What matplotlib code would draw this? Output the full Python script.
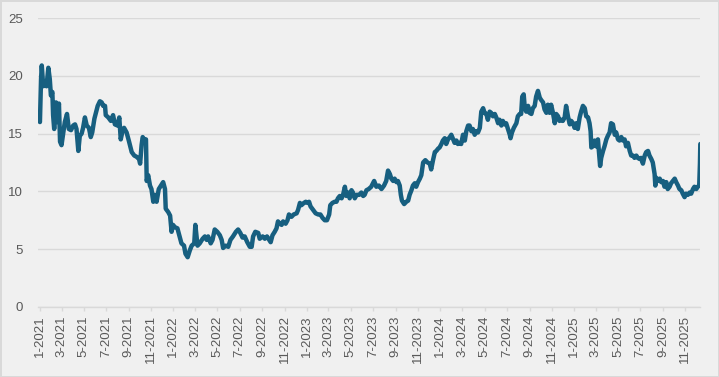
import matplotlib
matplotlib.use("Agg")
import matplotlib.pyplot as plt
import matplotlib.dates as mdates
from matplotlib.ticker import FuncFormatter, MultipleLocator
import pandas as pd

start_date = "2021-01-01"

days_since_start = [
    0, 3, 5, 9, 14, 18, 23, 27, 30, 34, 36, 39, 44, 47, 52, 55, 59, 64, 68, 74,
    79, 85, 91, 96, 100, 105, 109, 114, 118, 123, 128, 134, 139, 143, 149, 153, 158, 164, 169, 173,
    178, 180, 187, 194, 200, 205, 212, 217, 221, 225, 230, 237, 243, 251, 258, 264, 271, 274, 278, 281,
    285, 290, 292, 296, 301, 305, 310, 314, 319, 325, 331, 337, 342, 344, 351, 356, 360, 364, 369, 376,
    381, 387, 394, 398, 404, 410, 415, 422, 425, 431,
    437, 445, 451, 456, 460, 467, 472, 478, 485, 492, 497, 501, 508, 515, 521, 528, 536, 542, 548, 554,
    560, 567, 574, 579, 583, 589, 597, 601, 609, 615, 621, 627, 631, 636, 642, 647, 651, 656, 661, 665,
    672, 677, 681, 688, 694, 702, 706, 711, 715, 722, 727, 732, 736, 740, 747, 754, 761, 767, 773, 779,
    785, 791, 794, 800, 806, 811, 815, 820, 825, 829, 834, 838, 843, 847, 852, 856, 861, 866, 873, 879, 884,
    888, 893, 899, 906, 914, 920, 927, 934, 941, 947, 952, 957, 961, 966, 970, 975, 979, 984, 987, 990,
    996, 1002, 1007, 1011, 1016, 1020, 1025, 1029, 1034, 1039, 1043, 1048, 1054, 1060, 1066, 1070, 1075, 1080, 1084, 1089,
    1093, 1098, 1102, 1107, 1111, 1116, 1121, 1125, 1130, 1134, 1139, 1143, 1148, 1152, 1157, 1162, 1166, 1171, 1175, 1180,
    1184, 1189, 1193, 1198, 1203, 1207, 1212, 1216, 1221, 1225, 1230, 1234, 1239, 1244, 1248, 1253, 1257, 1262, 1266, 1271,
    1275, 1280, 1285, 1287, 1291, 1296, 1303, 1307, 1312, 1316, 1319, 1323, 1326, 1330, 1335,
    1339, 1344, 1348, 1353, 1357, 1362, 1367, 1371, 1376, 1380, 1385, 1389, 1394, 1398, 1403, 1408, 1412, 1417, 1421, 1426,
    1430, 1435, 1439, 1444, 1449, 1453, 1458, 1462, 1467, 1471, 1476, 1480, 1485, 1490, 1494, 1499, 1503, 1506, 1508, 1512,
    1517, 1521, 1526, 1529, 1532, 1535, 1540, 1544, 1549, 1553, 1558, 1562, 1567, 1572, 1576, 1581, 1585, 1590, 1594, 1599,
    1603, 1608, 1613, 1617, 1622, 1626, 1631, 1635, 1640, 1644, 1649, 1654, 1658, 1663, 1667, 1672, 1676, 1681, 1683, 1685,
    1690, 1695, 1699, 1704, 1708, 1713, 1717, 1722, 1726, 1731, 1736, 1740, 1745, 1749, 1754, 1758, 1763, 1767, 1772, 1777,
    1781, 1786, 1790, 1795, 1799, 1803, 1805, 1806,
]

values = [
    16.0, 19.7, 20.9, 19.1, 19.4, 19.1, 20.7, 19.7, 18.3, 18.6, 16.6, 15.4, 17.7, 16.0, 17.6, 14.3, 14.0, 15.1, 16.0, 16.7,
    15.4, 15.3, 15.7, 15.8, 15.4, 13.5, 14.8, 15.0, 15.5, 16.4, 15.7, 15.5, 14.7, 15.1, 16.3, 16.8, 17.4, 17.8, 17.7, 17.4,
    17.4, 16.6, 16.4, 16.1, 16.6, 15.8, 15.7, 16.4, 14.5, 15.1, 15.5, 15.1, 14.4, 13.4, 13.1, 13.0, 12.8, 12.4, 14.0, 14.7,
    14.5, 14.5, 10.9, 11.4, 10.5, 10.2, 9.1, 9.7, 9.1, 10.2, 10.5, 10.8, 10.2, 8.5, 8.2, 7.9, 6.5, 7.1, 6.9, 6.8,
    6.2, 5.5, 5.3, 4.6, 4.3, 4.9, 5.3, 5.5, 7.1, 5.3,
    5.5, 5.9, 6.1, 5.8, 6.1, 5.5, 5.8, 6.7, 6.5, 6.2, 5.8, 5.1, 5.3, 5.2, 5.8, 6.1, 6.5, 6.7, 6.4, 6.0,
    6.1, 5.6, 5.2, 5.2, 6.1, 6.5, 6.4, 5.9, 6.1, 5.9, 6.1, 5.8, 5.6, 6.2, 6.5, 6.8, 7.4, 7.2, 7.1, 7.4,
    7.2, 7.5, 8.0, 7.8, 8.0, 8.1, 8.4, 9.0, 8.8, 9.0, 9.1, 9.0, 9.1, 8.7, 8.4, 8.1, 8.0, 8.0, 7.7, 7.5,
    7.5, 8.0, 8.8, 9.0, 9.1, 9.1, 9.4, 9.6, 9.4, 9.7, 10.4, 9.6, 9.9, 9.4, 10.1, 9.9, 9.4, 9.7, 9.7, 9.9, 9.6,
    9.7, 10.1, 10.2, 10.4, 10.9, 10.4, 10.5, 10.2, 10.5, 10.9, 11.8, 11.5, 11.1, 10.9, 11.1, 10.8, 10.9, 10.5, 9.7, 9.2,
    8.9, 9.1, 9.2, 9.7, 10.1, 10.5, 10.7, 10.4, 10.8, 11.1, 11.4, 12.5, 12.7, 12.5, 12.4, 11.9, 12.7, 13.4, 13.5, 13.7,
    13.8, 14.1, 14.4, 14.6, 14.1, 14.5, 14.7, 14.9, 14.5, 14.2, 14.4, 14.1, 14.2, 14.1, 14.9, 14.4, 15.2, 15.7, 15.7, 15.2,
    15.4, 14.9, 15.2, 15.1, 15.5, 16.9, 17.2, 16.8, 16.7, 16.2, 16.9, 16.8, 16.5, 16.7, 16.4, 15.9, 16.2, 15.7, 16.1, 15.8,
    15.9, 15.4, 14.9, 14.6, 15.1, 15.5, 15.9, 16.5, 16.7, 16.7, 18.2, 18.4, 17.2, 16.9, 17.4,
    16.8, 16.7, 17.2, 17.4, 18.2, 18.7, 18.1, 17.9, 17.7, 17.1, 16.8, 17.5, 16.8, 17.5, 16.8, 15.9, 16.7, 16.5, 16.1, 16.2,
    16.1, 16.4, 17.4, 16.5, 15.8, 16.1, 15.9, 15.5, 15.9, 15.4, 16.4, 16.9, 17.4, 17.2, 16.5, 16.4, 15.9, 15.2, 13.8, 13.9,
    14.4, 13.9, 14.5, 13.4, 12.2, 12.9, 13.5, 13.9, 14.5, 14.8, 15.1, 15.9, 15.8, 14.9, 15.1, 14.5, 14.4, 14.7, 14.4, 14.5,
    13.9, 14.2, 13.5, 13.1, 13.1, 12.9, 13.1, 12.9, 12.8, 12.9, 12.4, 13.1, 13.4, 13.5, 13.1, 12.8, 12.5, 11.5, 10.5, 11.2,
    10.9, 11.1, 10.8, 10.9, 10.4, 10.8, 10.2, 10.4, 10.7, 10.9, 11.1, 10.8, 10.5, 10.2, 10.1, 9.8, 9.5, 9.8, 9.7, 9.9,
    9.8, 10.2, 10.4, 10.2, 10.4, 10.5, 12.4, 14.1,
]

y_ticks = [0, 5, 10, 15, 20, 25]

dates = pd.Timestamp(start_date) + pd.to_timedelta(days_since_start, unit="D")

BG = "#f0f0f0"
GRID = "#d9d9d9"
TXT = "#595959"
LINE = "#175f80"

plt.rcParams["font.family"] = ["Liberation Sans", "DejaVu Sans"]

fig = plt.figure(figsize=(7.19, 3.77), dpi=100, facecolor=BG,
                 edgecolor=GRID, linewidth=1.0)
ax = fig.add_axes([0.053, 0.186, 0.921, 0.766])
ax.set_facecolor(BG)

ax.plot(dates, values, color=LINE, linewidth=3.2,
        solid_joinstyle="round", solid_capstyle="round", zorder=3)

ax.set_ylim(0, 25)
ax.set_yticks(y_ticks)
ax.set_xlim(pd.Timestamp(start_date) - pd.Timedelta(days=5),
            pd.Timestamp(start_date) + pd.Timedelta(days=1806))

ax.xaxis.set_major_locator(mdates.MonthLocator(bymonth=[1, 3, 5, 7, 9, 11]))
ax.xaxis.set_major_formatter(FuncFormatter(
    lambda v, pos: f"{mdates.num2date(v).month}-{mdates.num2date(v).year}"))

ax.grid(axis="y", color=GRID, linewidth=1.0, zorder=0)
ax.set_axisbelow(True)
for s in ["top", "right", "left"]:
    ax.spines[s].set_visible(False)
ax.spines["bottom"].set_color(GRID)
ax.spines["bottom"].set_linewidth(1.0)

ax.tick_params(axis="y", length=0, pad=11, labelsize=9.5, labelcolor=TXT)
ax.tick_params(axis="x", length=3, width=1, color=GRID, pad=3,
               labelsize=9.5, labelcolor=TXT, labelrotation=90)

fig.savefig("out.png", dpi=100, facecolor=BG, edgecolor=GRID)
